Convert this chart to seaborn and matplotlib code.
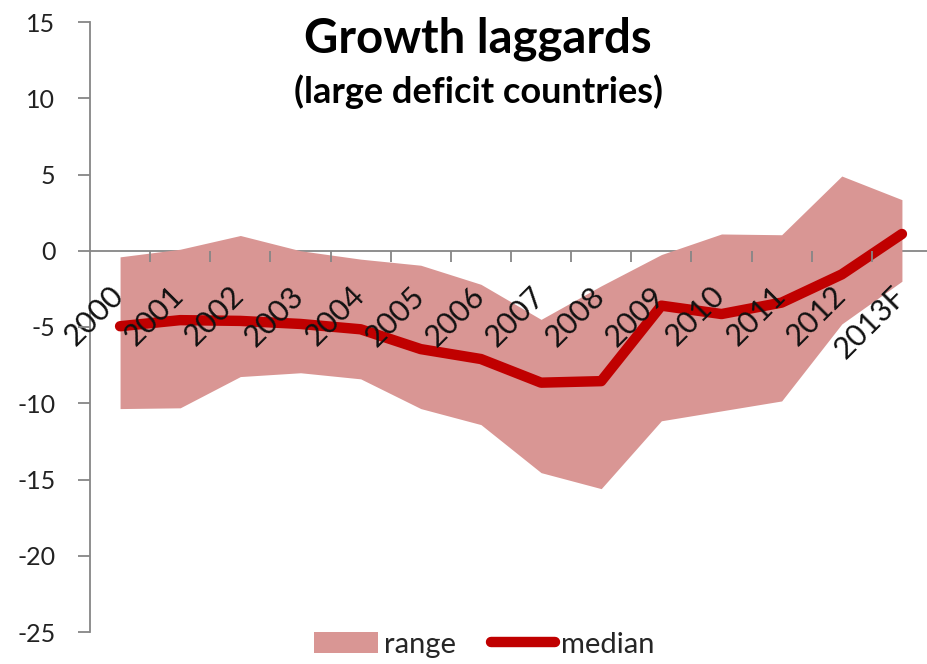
import numpy as np
import pandas as pd
import matplotlib
matplotlib.use("Agg")
import matplotlib.pyplot as plt
import matplotlib.transforms as mtransforms
from matplotlib.patches import Patch
from matplotlib.lines import Line2D
import seaborn as sns

# Data
years = ["2000", "2001", "2002", "2003", "2004", "2005", "2006",
         "2007", "2008", "2009", "2010", "2011", "2012", "2013F"]
range_high = [-0.4, 0.1, 1.0, 0.0, -0.55, -0.95, -2.2,
              -4.5, -2.3, -0.25, 1.1, 1.05, 4.9, 3.35]
range_low = [-10.35, -10.3, -8.25, -8.0, -8.4, -10.35, -11.4,
             -14.55, -15.6, -11.15, -10.5, -9.85, -4.8, -2.0]
median = [-4.95, -4.55, -4.6, -4.8, -5.15, -6.45, -7.1,
          -8.65, -8.55, -3.6, -4.15, -3.4, -1.55, 1.1]
y_ticks = [15, 10, 5, 0, -5, -10, -15, -20, -25]

df = pd.DataFrame({"year": years, "high": range_high, "low": range_low, "median": median})
df["pos"] = np.arange(len(df))

sns.set_style("white")
plt.rcParams["font.family"] = ["Lato", "DejaVu Sans"]

fill_color = "#D99694"
line_color = "#C00000"
axis_color = "#868686"

fig = plt.figure(figsize=(9.27, 6.64), dpi=100)
ax = fig.add_axes([90 / 927, 1 - 632 / 664, 842 / 927, 610 / 664])

ax.fill_between(df["pos"], df["low"], df["high"], color=fill_color, linewidth=0, zorder=1)
sns.lineplot(data=df, x="pos", y="median", ax=ax, color=line_color, zorder=2,
             linewidth=7.5, solid_capstyle="round", solid_joinstyle="round")
ax.set_axisbelow(False)

ax.set_xlim(-0.5, len(years) - 0.5)
ax.set_ylim(-25, 15)
ax.set_yticks(y_ticks)
ax.set_yticklabels([str(v) for v in y_ticks])
ax.set_xlabel("")
ax.set_ylabel("")

# spines: left axis plus horizontal axis at zero
for s in ["top", "right"]:
    ax.spines[s].set_visible(False)
ax.spines["left"].set_color(axis_color)
ax.spines["bottom"].set_color(axis_color)
ax.spines["bottom"].set_position(("data", 0))
ax.spines["left"].set_linewidth(1.3)
ax.spines["bottom"].set_linewidth(1.3)
ax.spines["bottom"].set_zorder(0.5)

ax.tick_params(axis="y", direction="out", length=9, width=1.3, color=axis_color,
               labelsize=18, pad=16, labelcolor="#222222", left=True)
ax.set_xticks(df["pos"])
ax.set_xticklabels(years, rotation=45, ha="right", va="top", fontsize=22,
                   color="#111111")
ax.set_xticks(df["pos"][:-1] + 0.5, minor=True)
ax.tick_params(axis="x", which="major", length=0, pad=22, bottom=True)
ax.tick_params(axis="x", which="minor", direction="out", length=8, width=1.3,
               color=axis_color, bottom=True)
offset = mtransforms.ScaledTranslation(9 / 100, 0, fig.dpi_scale_trans)
for lbl in ax.get_xticklabels():
    lbl.set_transform(lbl.get_transform() + offset)

fig.text(0.515, 0.942, "Growth laggards", ha="center", va="center",
         fontsize=34, fontweight="bold", color="black")
fig.text(0.516, 0.862, "(large deficit countries)", ha="center", va="center",
         fontsize=26, fontweight="bold", color="black")

handles = [Patch(facecolor=fill_color, edgecolor="none", label="range"),
           Line2D([0], [0], color=line_color, linewidth=7.5, solid_capstyle="round",
                  label="median")]
fig.legend(handles=handles, loc="lower center", bbox_to_anchor=(0.522, -0.03),
           ncol=2, frameon=False, fontsize=21, handlelength=2.2, handletextpad=0.2,
           columnspacing=1.2)

fig.savefig("out.png", dpi=100)
